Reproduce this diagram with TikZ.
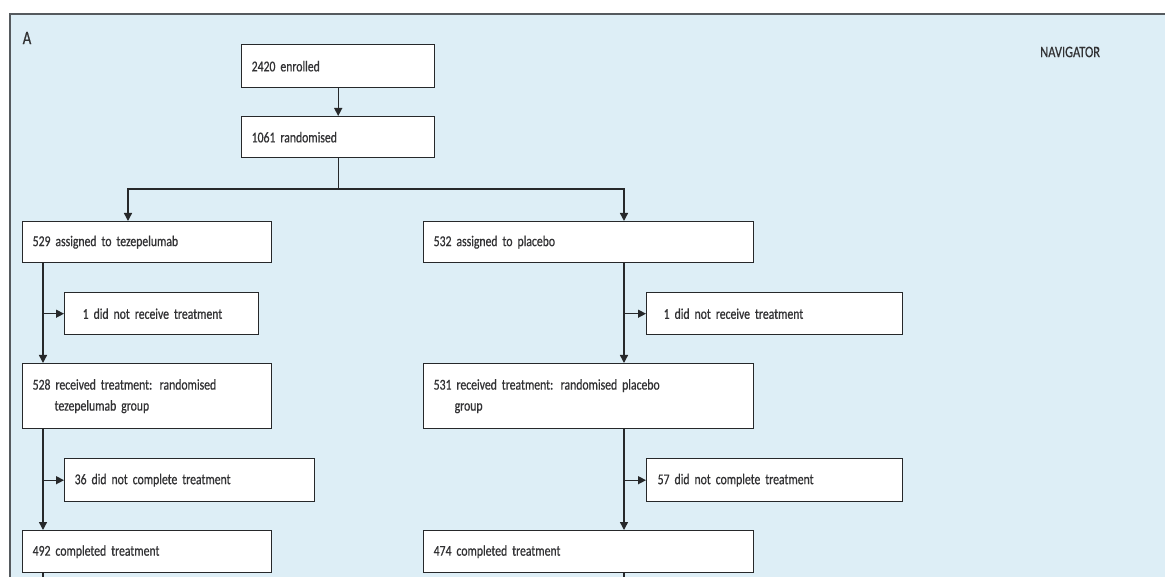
\documentclass[tikz,border=0pt]{standalone}
\usepackage{fontspec}
\setmainfont{Carlito}[FakeStretch=0.78, FakeBold=0.6]
\usetikzlibrary{arrows.meta,calc}
\definecolor{bgblue}{RGB}{221,238,246}
\definecolor{ink}{RGB}{38,40,42}
\definecolor{txt}{RGB}{50,50,52}
\definecolor{frame}{RGB}{85,90,94}
\newcommand{\myboxfont}{\fontsize{15}{21}\selectfont\spaceskip=2.8pt plus 1pt minus 0.5pt\relax}
\begin{document}
\begin{tikzpicture}[x=1pt,y=-1pt,
  box/.style={draw=ink, line width=1.4pt, fill=white, anchor=north west,
    inner xsep=10pt, inner ysep=0pt, align=left,
    font=\myboxfont, text=txt},
  arr/.style={draw=ink, line width=1.4pt, -{Triangle[length=8pt,width=8pt]}},
  ln/.style={draw=ink, line width=1.4pt},
  lbl/.style={font=\fontsize{19}{20}\selectfont, text=txt, inner sep=0pt}]
\useasboundingbox (0,0) rectangle (1165,577);
\clip (0,0) rectangle (1165,577);
\fill[white] (0,0) rectangle (1165,577);
\fill[bgblue] (10,14) rectangle (1175,590);
\draw[frame, line width=1.6pt] (10,590) -- (10,14) -- (1175,14);

\node[lbl, anchor=center] (lA) at (27,38) {A};
\node[lbl, anchor=west, font=\fontsize{16}{18}\selectfont] (nav) at (1040,52) {NAVIGATOR};

% boxes
\node[box, text width=173pt, minimum height=43pt] (enr) at (241,44) {2420 enrolled};
\node[box, text width=173pt, minimum height=41pt] (rnd) at (241,116) {1061 randomised};

\node[box, text width=229pt, minimum height=41pt] (t529) at (22,221) {529 assigned to tezepelumab};
\node[box, text width=310pt, minimum height=41pt] (p532) at (423,221) {532 assigned to placebo};

\node[box, inner xsep=18pt, text width=158pt, minimum height=42pt] (t1) at (64,292) {1 did not receive treatment};
\node[box, inner xsep=17pt, text width=222pt, minimum height=42pt] (p1) at (646,292) {1 did not receive treatment};

\node[box, text width=229pt, minimum height=65pt] (t528) at (22,363) {528 received treatment: randomised\\\hspace*{22pt}tezepelumab group};
\node[box, text width=310pt, minimum height=65pt] (p531) at (423,363) {531 received treatment: randomised placebo\\\hspace*{21pt}group};

\node[box, text width=230pt, minimum height=43pt] (t36) at (64,458) {36 did not complete treatment};
\node[box, inner xsep=11pt, text width=234pt, minimum height=43pt] (p57) at (646,458) {57 did not complete treatment};

\node[box, text width=229pt, minimum height=42pt] (t492) at (22,530) {492 completed treatment};
\node[box, text width=310pt, minimum height=42pt] (p474) at (423,530) {474 completed treatment};

% connectors
\draw[arr] (enr.south) -- (rnd.north);
\coordinate (lvl) at (0,189);
\draw[ln] (rnd.south) -- (rnd.south |- lvl);
\draw[arr] (rnd.south |- lvl) -| ([xshift=106pt]t529.north west);
\draw[arr] (rnd.south |- lvl) -| ([xshift=201pt]p532.north west);

\coordinate (tx) at ([xshift=21pt]t529.south west);
\coordinate (px) at ([xshift=201pt]p532.south west);

\draw[arr] (tx) -- (tx |- t528.north);
\draw[arr] (t1.west -| tx) -- (t1.west);
\draw[arr] (t528.south -| tx) -- (t492.north -| tx);
\draw[arr] (t36.west -| tx) -- (t36.west);
\coordinate (tend) at (43,600);
\draw[ln] (t492.south -| tx) -- (tend -| tx);

\draw[arr] (px) -- (px |- p531.north);
\draw[arr] (p1.west -| px) -- (p1.west);
\draw[arr] (p531.south -| px) -- (p474.north -| px);
\draw[arr] (p57.west -| px) -- (p57.west);
\coordinate (pend) at (624,600);
\draw[ln] (p474.south -| px) -- (pend -| px);
\end{tikzpicture}
\end{document}
